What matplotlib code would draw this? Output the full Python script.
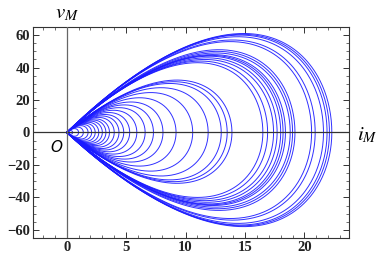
import numpy as np
import matplotlib
matplotlib.use("Agg")
import matplotlib.pyplot as plt
from matplotlib.ticker import MultipleLocator

# Each loop: right end on the i-axis, upper peak and lower peak of v
loop_imax = [0.5, 1.0, 1.4, 1.8, 2.1, 2.4, 2.7, 3.0, 3.3, 3.6, 4.0, 4.4, 4.8,
             5.3, 5.9, 6.6, 7.3, 8.1, 9.2, 10.6, 11.9, 13.0, 13.5, 13.9,
             16.5, 16.9, 17.4, 17.7, 18.0, 18.2, 18.4, 18.8, 19.0, 19.2,
             20.6, 20.9, 21.6, 21.9, 22.1, 22.3]
loop_vup = [1.2, 2.4, 3.3, 4.2, 4.9, 5.6, 6.3, 7.0, 7.7, 8.4, 9.3, 10.2, 11.1,
            12.3, 13.7, 15.3, 17.0, 18.8, 21.4, 24.6, 27.6, 30.2, 31.3, 32.3,
            43.0, 44.0, 45.0, 46.0, 47.0, 47.5, 48.0, 49.0, 50.0, 51.0,
            56.0, 57.0, 59.0, 60.0, 60.5, 61.0]
loop_vlow = [-1.1, -2.3, -3.2, -4.0, -4.7, -5.4, -6.1, -6.7, -7.4, -8.1, -9.0, -9.9, -10.8,
             -11.9, -13.3, -14.8, -16.4, -18.2, -20.7, -23.8, -26.8, -29.2, -30.3, -31.3,
             -40.0, -41.0, -42.0, -43.0, -44.0, -44.5, -45.0, -46.0, -47.0, -48.0,
             -53.0, -54.0, -56.0, -57.0, -57.5, -58.0]

x_ticks = [0, 5, 10, 15, 20]
y_ticks = [-60, -40, -20, 0, 20, 40, 60]

fig = plt.figure(figsize=(3.84, 2.62), dpi=100)
ax = fig.add_axes([0.086, 0.0916, 0.823, 0.8054])

theta = np.linspace(0, np.pi, 200)
shape_peak = (2.0 / 3.0) * np.sqrt(1.0 / 3.0)
for m, vu, vl in zip(loop_imax, loop_vup, loop_vlow):
    i = m * (1 - np.cos(theta)) / 2
    s = i * np.sqrt(np.clip(1 - i / m, 0, None)) / (m * shape_peak)
    ii = np.concatenate([i, i[::-1]])
    vv = np.concatenate([vu * s, vl * s[::-1]])
    ax.plot(ii, vv, color="#1a1aff", lw=0.7, alpha=0.9)

ax.axhline(0, color="#333333", lw=0.9, zorder=5)
ax.axvline(0, color="#666666", lw=0.9, zorder=5)

ax.set_xlim(-2.83, 23.75)
ax.set_ylim(-65, 65)
ax.set_xticks(x_ticks)
ax.set_yticks(y_ticks)
ax.xaxis.set_minor_locator(MultipleLocator(1))
ax.yaxis.set_minor_locator(MultipleLocator(5))
ax.tick_params(which="both", direction="in", top=True, right=True,
               labelsize=10.5, pad=2, color="#333333")
ax.tick_params(which="major", length=4, width=0.7)
ax.tick_params(which="minor", length=2, width=0.5)
ax.set_xticklabels([str(t) for t in x_ticks])
ax.set_yticklabels([str(t).replace("-", "\u2212") for t in y_ticks])
for lab in ax.get_xticklabels() + ax.get_yticklabels():
    lab.set_fontfamily("Liberation Serif")
    lab.set_fontweight("bold")
    lab.set_color("#222222")
for sp in ax.spines.values():
    sp.set_color("#333333")
    sp.set_linewidth(0.8)

plt.rcParams["mathtext.fontset"] = "stix"
fig.text(67 / 384, 1 - 13 / 262, r"$v_M$", fontsize=15, ha="center", va="center")
fig.text(367 / 384, 1 - 135 / 262, r"$i_M$", fontsize=15, ha="center", va="center")
fig.text(56 / 384, 1 - 148 / 262, "O", fontsize=11, style="italic",
         fontfamily="DejaVu Sans", ha="center", va="center")

fig.savefig("out.png", dpi=100)
